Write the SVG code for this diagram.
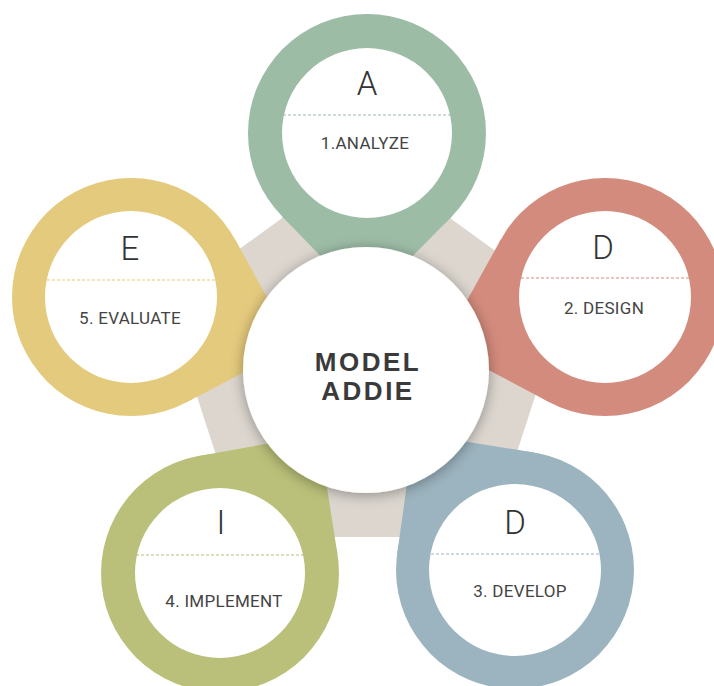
<svg xmlns="http://www.w3.org/2000/svg" width="714" height="686" viewBox="0 0 714 686">
  <defs>
    <filter id="shadow" x="-30%" y="-30%" width="160%" height="160%">
      <feGaussianBlur in="SourceAlpha" stdDeviation="7"/>
      <feOffset dx="0" dy="2" result="b"/>
      <feComponentTransfer><feFuncA type="linear" slope="0.35"/></feComponentTransfer>
      <feMerge><feMergeNode/><feMergeNode in="SourceGraphic"/></feMerge>
    </filter>
  </defs>
  <style>
    .inner { fill: #ffffff; }
    .letter { font-family: Roboto, "Liberation Sans", sans-serif; font-weight: 300; font-size: 33px; fill: #333333; text-anchor: middle; }
    .label { font-family: Roboto, "Liberation Sans", sans-serif; font-size: 17px; fill: #444444; text-anchor: middle; letter-spacing: 0.3px; }
    .title { font-family: "Liberation Sans", Arial, sans-serif; font-weight: bold; font-size: 26px; fill: #3a3a3a; text-anchor: middle; letter-spacing: 2.5px; }
    .dash { stroke-width: 1.2; stroke-dasharray: 3 2; fill: none; }
  </style>
  <rect width="714" height="686" fill="#ffffff"/>

  <g id="connectors">
    <polygon points="366,157 565.7,302.1 489.4,536.9 242.6,536.9 166.3,302.1" fill="#dcd6cf"/>
  </g>

  <g id="node-a">
    <circle cx="367" cy="133" r="119" fill="#9dbca6"/>
    <polygon points="282,216.3 366,303 452,216.3" fill="#9dbca6"/>
    <circle class="inner" cx="367" cy="133" r="85"/>
    <line class="dash" x1="283" y1="115" x2="451" y2="115" stroke="#9dbca6"/>
    <text class="letter" x="367" y="95">A</text>
    <text class="label" x="365" y="149">1.ANALYZE</text>
  </g>

  <g id="node-d2">
    <circle cx="605" cy="297" r="119" fill="#d38b7d"/>
    <polygon points="501,239.2 442,345.4 549.4,402.2" fill="#d38b7d"/>
    <circle class="inner" cx="605" cy="297" r="86"/>
    <line class="dash" x1="521" y1="278" x2="689" y2="278" stroke="#d38b7d"/>
    <text class="letter" x="603" y="259">D</text>
    <text class="label" x="604" y="314">2. DESIGN</text>
  </g>

  <g id="node-e">
    <circle cx="131" cy="297" r="119" fill="#e4ca7d"/>
    <polygon points="186.1,402.5 293.7,346.2 235.3,239.7" fill="#e4ca7d"/>
    <circle class="inner" cx="131" cy="297" r="86"/>
    <line class="dash" x1="47" y1="280" x2="215" y2="280" stroke="#e4ca7d"/>
    <text class="letter" x="130" y="260">E</text>
    <text class="label" x="130" y="324">5. EVALUATE</text>
  </g>

  <g id="node-i">
    <circle cx="220" cy="573" r="119" fill="#bac079"/>
    <polygon points="337.5,554.5 318.6,434.5 199,455.9" fill="#bac079"/>
    <circle class="inner" cx="220" cy="573" r="85"/>
    <line class="dash" x1="136" y1="555" x2="304" y2="555" stroke="#bac079"/>
    <text class="letter" x="221" y="534">I</text>
    <text class="label" x="224" y="607">4. IMPLEMENT</text>
  </g>

  <g id="node-d3">
    <circle cx="515" cy="570" r="119" fill="#9cb4bf"/>
    <polygon points="534,452.5 414.1,433.2 397.2,553.5" fill="#9cb4bf"/>
    <circle class="inner" cx="515" cy="570" r="86"/>
    <line class="dash" x1="431" y1="554" x2="599" y2="554" stroke="#9cb4bf"/>
    <text class="letter" x="515" y="534">D</text>
    <text class="label" x="520" y="597">3. DEVELOP</text>
  </g>

  <g id="node-center">
    <circle cx="366" cy="370" r="123" fill="#ffffff" filter="url(#shadow)"/>
    <text class="title" x="368" y="371">MODEL</text>
    <text class="title" x="368" y="400">ADDIE</text>
  </g>
</svg>
